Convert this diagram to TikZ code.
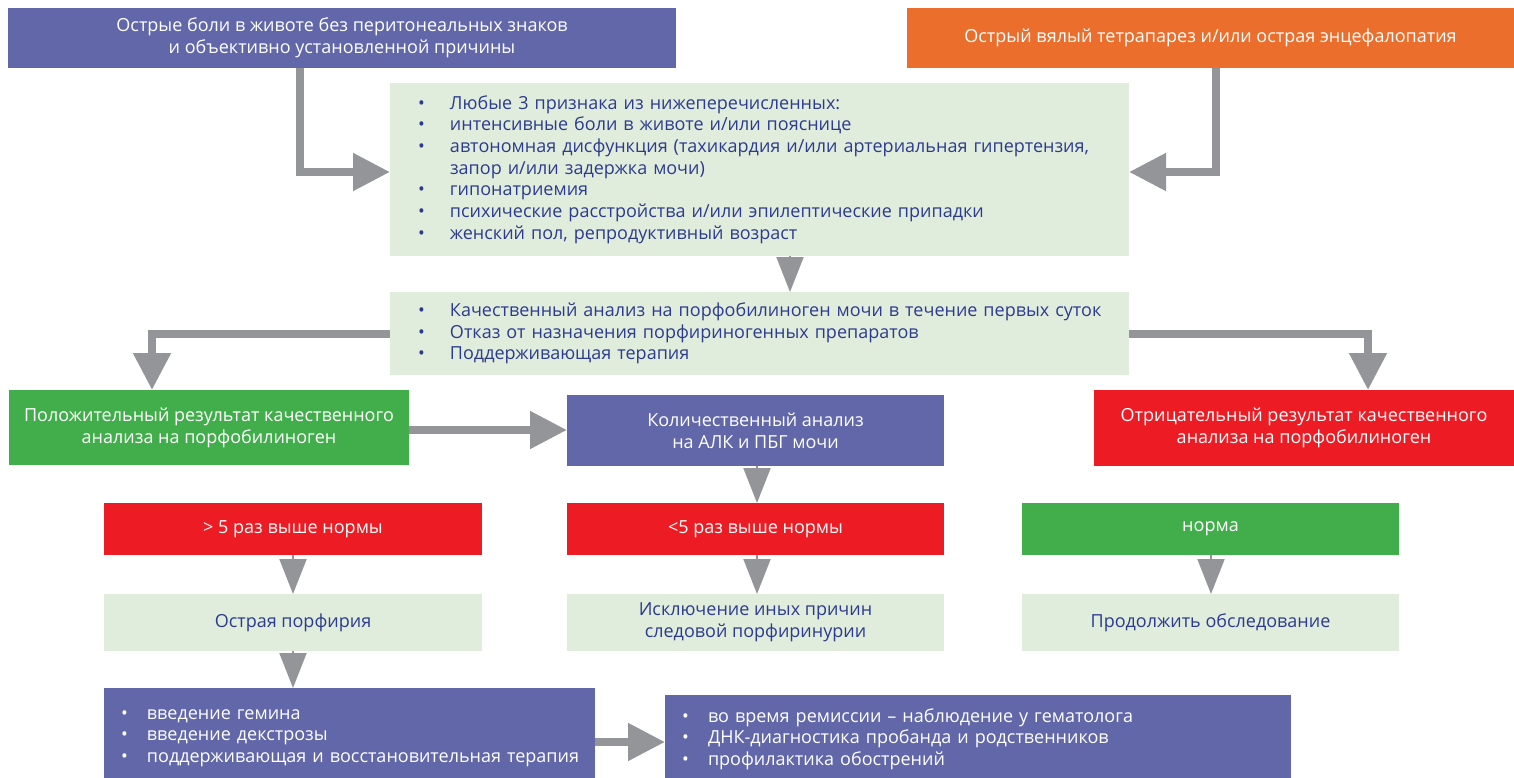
\documentclass[tikz,border=0pt]{standalone}
\usepackage{fontspec}
\setmainfont{Open Sans}
\usetikzlibrary{arrows.meta}
\definecolor{purp}{HTML}{6167A8}
\definecolor{orng}{HTML}{EB6E2D}
\definecolor{lgreen}{HTML}{E1EDDC}
\definecolor{dgreen}{HTML}{42AE4B}
\definecolor{dred}{HTML}{ED1C24}
\definecolor{navy}{HTML}{2D3B8E}
\definecolor{agray}{HTML}{939598}
\newcommand{\li}[1]{\mbox{\makebox[32pt][l]{\textbullet}#1}}
\newcommand{\cnt}[1]{\mbox{\hspace*{32pt}#1}}
\newcommand{\lib}[1]{\mbox{\makebox[26pt][l]{\textbullet}#1}}
\begin{document}
\begin{tikzpicture}[x=1pt,y=-1pt,
  box/.style={rectangle, anchor=north west, inner sep=0pt, outer sep=0pt,
    font=\fontsize{18}{21.7}\selectfont, align=center},
  dark/.style={box, text=white},
  light/.style={box, fill=lgreen, text=navy},
  listbox/.style={inner xsep=28pt, inner ysep=0pt, align=left},
  conn/.style={draw=agray, line width=8pt, -{Triangle[length=37pt,width=36pt]}},
  tri/.style={draw=agray, line width=2pt, -{Triangle[length=35pt,width=27pt]}}
]
\useasboundingbox (0,0) rectangle (1514,777);

\node[dark, fill=purp, minimum width=668pt, minimum height=60pt] (top1) at (8,8)
  {Острые боли в животе без перитонеальных знаков\\ и объективно установленной причины};
\node[dark, fill=orng, minimum width=607pt, minimum height=60pt] (top2) at (907,8)
  {Острый вялый тетрапарез и/или острая энцефалопатия};

\node[light, listbox, text width=683pt, minimum height=173pt] (critA) at (390,83)
  {\li{Любые 3 признака из нижеперечисленных:}\\
   \li{интенсивные боли в животе и/или пояснице}\\
   \li{автономная дисфункция (тахикардия и/или артериальная гипертензия,}\\
   \cnt{запор и/или задержка мочи)}\\
   \li{гипонатриемия}\\
   \li{психические расстройства и/или эпилептические припадки}\\
   \li{женский пол, репродуктивный возраст}};

\node[light, listbox, text width=683pt, minimum height=83pt] (critB) at (390,292)
  {\li{Качественный анализ на порфобилиноген мочи в течение первых суток}\\
   \li{Отказ от назначения порфириногенных препаратов}\\
   \li{Поддерживающая терапия}};

\node[dark, fill=dgreen, minimum width=400pt, minimum height=75pt] (pos) at (9,390)
  {Положительный результат качественного\\ анализа на порфобилиноген};
\node[dark, fill=purp, minimum width=377pt, minimum height=71pt] (quant) at (567,395)
  {Количественный анализ\\ на АЛК и ПБГ мочи};
\node[dark, fill=dred, minimum width=420pt, minimum height=76pt] (neg) at (1094,390)
  {Отрицательный результат качественного\\ анализа на порфобилиноген};

\node[dark, fill=dred, minimum width=378pt, minimum height=52pt] (gt5) at (104,503)
  {> 5 раз выше нормы};
\node[dark, fill=dred, minimum width=377pt, minimum height=52pt] (lt5) at (567,503)
  {<5 раз выше нормы};
\node[dark, fill=dgreen, minimum width=377pt, minimum height=52pt] (norm) at (1022,503)
  {норма};

\node[light, minimum width=378pt, minimum height=57pt] (acute) at (104,594)
  {Острая порфирия};
\node[light, minimum width=377pt, minimum height=57pt] (excl) at (567,594)
  {Исключение иных причин\\ следовой порфиринурии};
\node[light, minimum width=377pt, minimum height=57pt] (cont) at (1022,594)
  {Продолжить обследование};

\node[dark, fill=purp, listbox, inner xsep=17pt, text width=457pt, minimum height=100pt] (bl) at (104,688)
  {\lib{введение гемина}\\
   \lib{введение декстрозы}\\
   \lib{поддерживающая и восстановительная терапия}};
\node[dark, fill=purp, listbox, inner xsep=17pt, text width=592pt, minimum height=88pt] (br) at (665,695)
  {\lib{во время ремиссии – наблюдение у гематолога}\\
   \lib{ДНК-диагностика пробанда и родственников}\\
   \lib{профилактика обострений}};

% connectors
\draw[conn] (300,0 |- top1.south) |- (critA.west |- 0,172);
\draw[conn] (1216,0 |- top2.south) |- (critA.east |- 0,172);
\draw[tri] (790,0 |- critA.south) -- (790,0 |- critB.north);
\draw[conn] (critB.west) -| (152,0 |- pos.north);
\draw[conn] (critB.east) -| (1368,0 |- neg.north);
\draw[conn] (pos.east |- 0,430) -- (quant.west |- 0,430);
\draw[tri] (757,0 |- quant.south) -- (757,0 |- lt5.north);
\draw[tri] (293,0 |- gt5.south) -- (293,0 |- acute.north);
\draw[tri] (757,0 |- lt5.south) -- (757,0 |- excl.north);
\draw[tri] (1211,0 |- norm.south) -- (1211,0 |- cont.north);
\draw[tri] (293,0 |- acute.south) -- (293,0 |- bl.north);
\draw[conn] (bl.east |- 0,742) -- (br.west |- 0,742);
\end{tikzpicture}
\end{document}
